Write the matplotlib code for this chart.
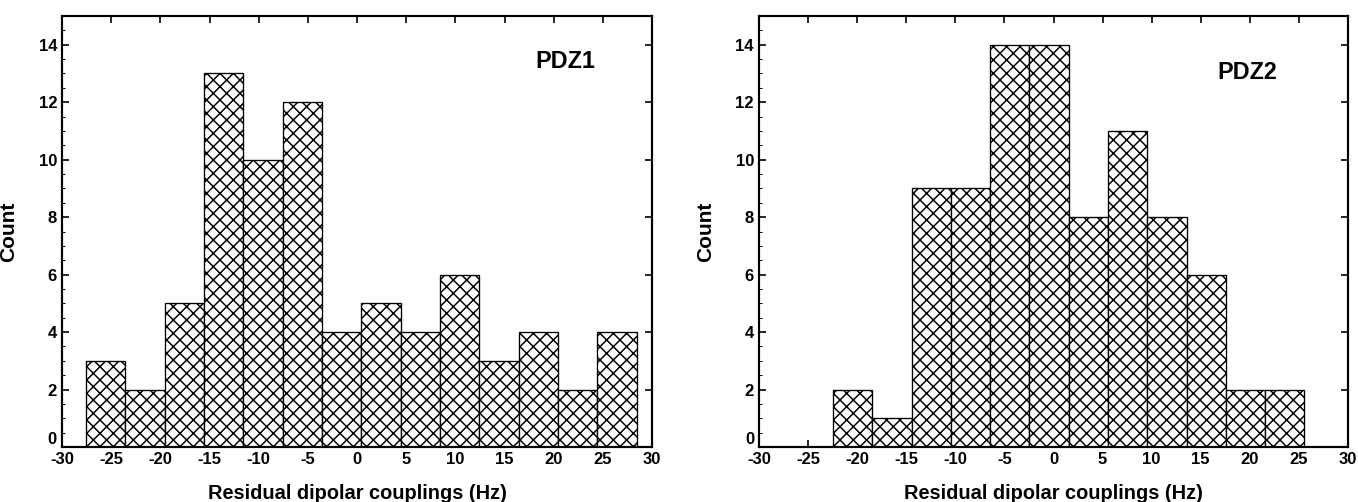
import matplotlib
matplotlib.use("Agg")
import matplotlib.pyplot as plt
import numpy as np
from matplotlib.ticker import MultipleLocator

# Histogram data (bin width 4 Hz)
BIN_WIDTH = 4.0
pdz1_first_edge = -27.55
pdz1_counts = [3, 2, 5, 13, 10, 12, 4, 5, 4, 6, 3, 4, 2, 4]
pdz2_first_edge = -22.45
pdz2_counts = [2, 1, 9, 9, 14, 14, 8, 11, 8, 6, 2, 2]

panel_labels = ["PDZ1", "PDZ2"]
x_ticks = [-30, -25, -20, -15, -10, -5, 0, 5, 10, 15, 20, 25, 30]
y_ticks = [0, 2, 4, 6, 8, 10, 12, 14]

plt.rcParams["font.family"] = ["Liberation Sans", "DejaVu Sans"]
plt.rcParams["font.weight"] = "bold"
plt.rcParams["hatch.linewidth"] = 0.9

DPI = 120
fig = plt.figure(figsize=(1358 / DPI, 502 / DPI), dpi=DPI)

ax1 = fig.add_axes([62 / 1358, 1 - 447 / 502, 590 / 1358, 431 / 502])
ax2 = fig.add_axes([759 / 1358, 1 - 447 / 502, 589 / 1358, 431 / 502])


def draw_panel(ax, first_edge, counts, label, label_xy):
    lefts = first_edge + BIN_WIDTH * np.arange(len(counts))
    ax.bar(lefts, counts, width=BIN_WIDTH, align="edge", facecolor="white",
           edgecolor="black", linewidth=0.8, hatch="xxx", zorder=2)
    ax.set_xlim(-30, 30)
    ax.set_ylim(0, 15)
    ax.set_xticks(x_ticks)
    ax.set_yticks(y_ticks)
    ax.set_xticklabels([str(t) for t in x_ticks], fontsize=10, fontweight="bold")
    ax.set_yticklabels([str(t) for t in y_ticks], fontsize=10, fontweight="bold")
    # the "0" on y sits just above the "-30" on x, as in the original
    ax.get_yticklabels()[0].set_verticalalignment("bottom")
    ax.yaxis.set_minor_locator(MultipleLocator(0.5))
    ax.tick_params(which="major", direction="in", length=4, width=1.0,
                   top=True, right=True)
    ax.tick_params(axis="x", which="major", pad=3)
    ax.tick_params(axis="y", which="major", pad=3)
    ax.tick_params(axis="y", which="minor", direction="in", length=2, width=0.6,
                   left=True, right=False)
    for s in ax.spines.values():
        s.set_linewidth(1.3)
    ax.set_xlabel("Residual dipolar couplings (Hz)", fontsize=12,
                  fontweight="bold", labelpad=10)
    ax.set_ylabel("Count", fontsize=12.5, fontweight="bold", labelpad=12)
    ax.text(label_xy[0], label_xy[1], label, fontsize=14, fontweight="bold",
            ha="center", va="center")


draw_panel(ax1, pdz1_first_edge, pdz1_counts, panel_labels[0], (21.2, 13.4))
draw_panel(ax2, pdz2_first_edge, pdz2_counts, panel_labels[1], (19.7, 13.05))

fig.savefig("out.png", dpi=DPI)
